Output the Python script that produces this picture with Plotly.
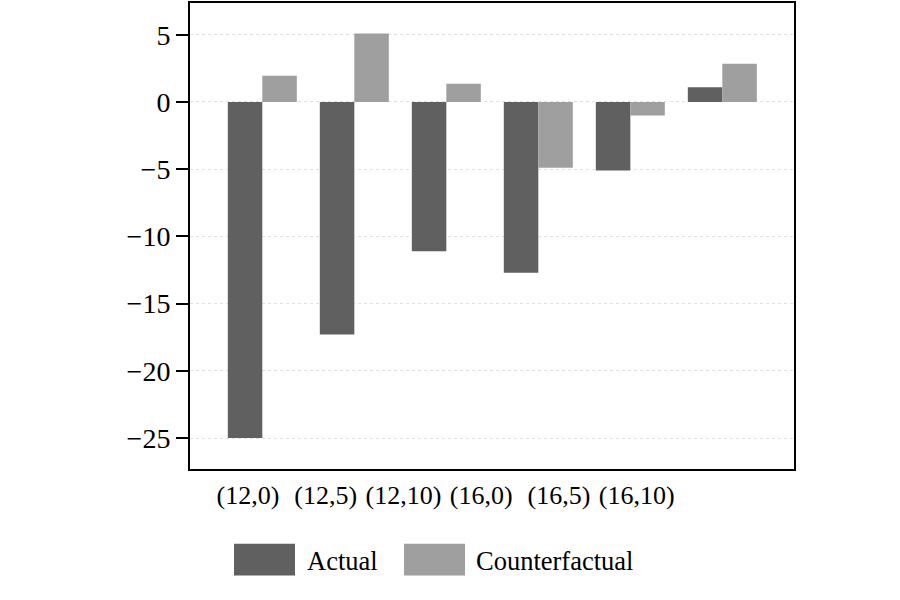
import plotly.graph_objects as go

categories = ["(12,0)", "(12,5)", "(12,10)", "(16,0)", "(16,5)", "(16,10)"]
actual = [-25.0, -17.3, -11.1, -12.7, -5.1, 1.1]
counterfactual = [1.95, 5.1, 1.35, -4.9, -1.0, 2.85]
series_names = ["Actual", "Counterfactual"]
series_colors = ["#606060", "#9f9f9f"]
ytick_vals = [5, 0, -5, -10, -15, -20, -25]
ytick_text = ["5", "0", "\u22125", "\u221210", "\u221215", "\u221220", "\u221225"]

FONT = "Liberation Serif, Times New Roman, serif"

idx = list(range(len(categories)))
fig = go.Figure()
fig.add_trace(go.Bar(x=idx, y=actual, name=series_names[0],
                     marker=dict(color=series_colors[0], line=dict(width=0)),
                     showlegend=False))
fig.add_trace(go.Bar(x=idx, y=counterfactual, name=series_names[1],
                     marker=dict(color=series_colors[1], line=dict(width=0)),
                     showlegend=False))
# invisible trace carrying the category tick labels
fig.add_trace(go.Scatter(x=categories, y=[0] * len(categories), xaxis="x2",
                         mode="markers", marker=dict(opacity=0),
                         showlegend=False, hoverinfo="skip"))

L, R, T, B = 190, 106, 1, 131
W, H = 900, 600
pw = W - L - R
ph = H - T - B

fig.update_layout(
    width=W, height=H,
    margin=dict(l=L, r=R, t=T, b=B),
    paper_bgcolor="white", plot_bgcolor="white",
    barmode="group", bargap=0.25, bargroupgap=0,
    font=dict(family=FONT, color="black"),
    xaxis=dict(range=[-0.786, 5.779], showticklabels=False, ticks="",
               showgrid=False, zeroline=False, showline=True, mirror=True,
               linecolor="black", linewidth=2),
    xaxis2=dict(type="category", categoryarray=categories, overlaying="x",
                anchor="y", side="bottom", range=[-0.746, 7.023],
                showgrid=False, zeroline=False, showline=False, ticks="",
                ticklabelstandoff=8,
                tickfont=dict(size=26, family=FONT, color="black")),
    yaxis=dict(range=[-27.3, 7.36], tickvals=ytick_vals, ticktext=ytick_text,
               ticks="outside", ticklen=12, tickwidth=2, tickcolor="black",
               tickfont=dict(size=28, family=FONT, color="black"),
               showgrid=True, gridcolor="#e0e0e0", griddash="dot", gridwidth=1,
               zeroline=False, showline=True, mirror=True,
               linecolor="black", linewidth=2),
)

# custom legend with large swatches
def px_x(p):
    return (p - L) / pw

def px_y(p):
    return (H - B - p) / ph

swatches = [(234, 295, 305), (404, 465, 474)]
for (x0, x1, tx), name, col in zip(swatches, series_names, series_colors):
    fig.add_shape(type="rect", xref="paper", yref="paper",
                  x0=px_x(x0), x1=px_x(x1), y0=px_y(576), y1=px_y(544),
                  fillcolor=col, line=dict(width=0))
    fig.add_annotation(xref="paper", yref="paper", x=px_x(tx), y=px_y(561),
                       text=name, showarrow=False, xanchor="left", yanchor="middle",
                       font=dict(size=26.5, family=FONT, color="black"))

fig.write_html("out.html")
